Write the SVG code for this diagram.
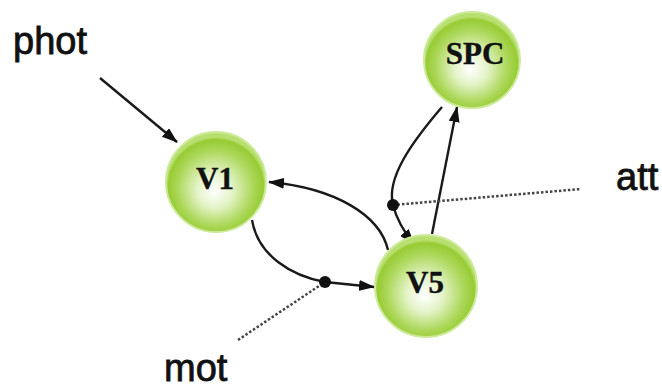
<svg xmlns="http://www.w3.org/2000/svg" width="662" height="389" viewBox="0 0 662 389">
<defs>
<radialGradient id="g" cx="50%" cy="55%" r="50%" fx="48%" fy="60%">
<stop offset="0" stop-color="#ffffff"/>
<stop offset="0.35" stop-color="#e4f3c8"/>
<stop offset="0.75" stop-color="#acd85a"/>
<stop offset="0.95" stop-color="#98cb34"/>
<stop offset="1" stop-color="#b8e070"/>
</radialGradient>
<marker id="ah" markerWidth="16" markerHeight="11" refX="15" refY="5.5" orient="auto" markerUnits="userSpaceOnUse">
<path d="M0,0 L16,5.5 L0,11 Z" fill="#111"/>
</marker>
<style>
.node{fill:url(#g);stroke:#cde99a;stroke-width:2}
.nt{font-family:"Liberation Serif",serif;font-weight:bold;font-size:31px;fill:#111;text-anchor:middle;stroke:#111;stroke-width:0.4}
.lab{font-family:"Liberation Sans",Arial,sans-serif;font-size:38px;fill:#111;stroke:#111;stroke-width:0.8}
.e{fill:none;stroke:#1a1a1a;stroke-width:2.4}
.d{fill:none;stroke:#444;stroke-width:2.5;stroke-dasharray:2.5 2}
.dot{fill:#111}
</style>
</defs>
<g id="connectors">
<path class="e" d="M100,78 L177,142" marker-end="url(#ah)"/>
<path class="e" d="M388,250 C380,215 335,188 269,182" marker-end="url(#ah)"/>
<path class="e" d="M252,220 C258,256 292,276 325,282 L374,287" marker-end="url(#ah)"/>
<path class="e" d="M442,107 C412,142 386,178 393,205 C397,221 404,232 414,244" marker-end="url(#ah)"/>
<path class="e" d="M432,234 L457,107" marker-end="url(#ah)"/>
<path class="d" d="M238,340 L325,282"/>
<path class="d" d="M393,205 L581,189"/>
<circle class="dot" cx="325" cy="282" r="6"/>
<circle class="dot" cx="393" cy="205" r="6"/>
</g>
<g id="V1">
<circle class="node" cx="216" cy="182" r="50"/>
<text class="nt" x="215" y="189">V1</text>
</g>
<g id="V5">
<circle class="node" cx="426" cy="286" r="51"/>
<text class="nt" x="425" y="293">V5</text>
</g>
<g id="SPC">
<circle class="node" cx="472" cy="60" r="48"/>
<text class="nt" x="475" y="64">SPC</text>
</g>
<g id="labels">
<text class="lab" x="13" y="54">phot</text>
<text class="lab" x="164" y="381" font-size="36">mot</text>
<text class="lab" x="616" y="190">att</text>
</g>
</svg>
